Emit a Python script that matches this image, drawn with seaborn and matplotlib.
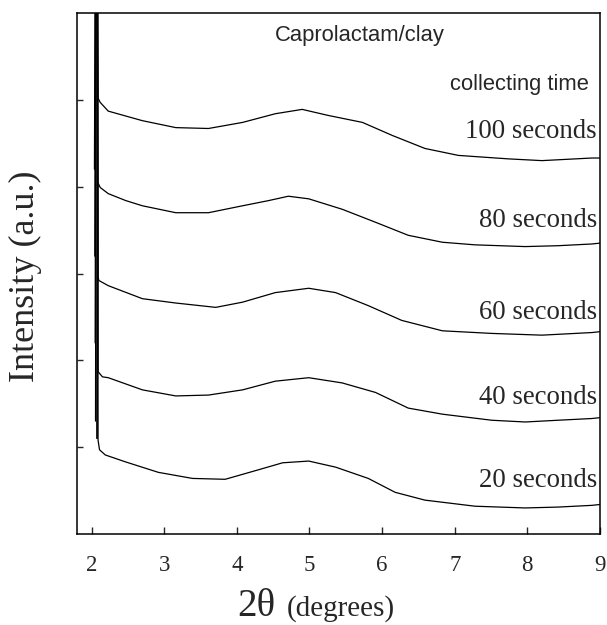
import matplotlib
matplotlib.use("Agg")
import matplotlib.pyplot as plt
import seaborn as sns
import pandas as pd

# ---- data (2theta in degrees, intensity in offset a.u.) ----
series_names = ["100 seconds", "80 seconds", "60 seconds", "40 seconds", "20 seconds"]

x_100 = [2.040, 2.060, 2.070, 2.090, 2.12, 2.23, 2.70, 3.16, 3.61, 4.08, 4.53, 4.90, 5.26, 5.73, 6.14, 6.59, 7.05, 7.74, 8.20, 8.89, 9.0]
y_100 = [4.20, 9.0, 9.0, 5.02, 4.97, 4.87, 4.76, 4.68, 4.67, 4.74, 4.84, 4.89, 4.82, 4.74, 4.59, 4.44, 4.36, 4.32, 4.30, 4.33, 4.33]

x_80 = [2.045, 2.062, 2.070, 2.085, 2.12, 2.23, 2.47, 2.70, 3.16, 3.61, 4.08, 4.44, 4.71, 4.99, 5.45, 5.91, 6.36, 6.83, 7.28, 7.97, 8.42, 8.89, 9.0]
y_80 = [3.20, 9.0, 9.0, 4.05, 3.99, 3.92, 3.84, 3.78, 3.70, 3.70, 3.78, 3.84, 3.89, 3.86, 3.74, 3.59, 3.44, 3.36, 3.33, 3.31, 3.32, 3.34, 3.35]

x_60 = [2.050, 2.065, 2.075, 2.090, 2.10, 2.23, 2.70, 3.16, 3.71, 4.08, 4.53, 4.99, 5.36, 5.81, 6.27, 6.83, 7.51, 8.20, 8.89, 9.0]
y_60 = [2.20, 9.0, 9.0, 2.97, 2.92, 2.86, 2.71, 2.66, 2.61, 2.67, 2.78, 2.83, 2.78, 2.63, 2.46, 2.34, 2.31, 2.29, 2.32, 2.33]

x_40 = [2.055, 2.068, 2.078, 2.090, 2.15, 2.23, 2.70, 3.16, 3.61, 4.08, 4.53, 4.99, 5.45, 5.91, 6.36, 6.83, 7.51, 7.97, 8.42, 8.89, 9.0]
y_40 = [1.30, 9.0, 9.0, 1.87, 1.81, 1.80, 1.66, 1.59, 1.60, 1.66, 1.76, 1.80, 1.74, 1.63, 1.45, 1.38, 1.31, 1.29, 1.31, 1.33, 1.34]

x_20 = [2.072, 2.076, 2.082, 2.090, 2.11, 2.19, 2.47, 2.92, 3.39, 3.84, 4.30, 4.63, 4.99, 5.36, 5.81, 6.18, 6.59, 7.28, 7.97, 8.42, 8.89, 9.0]
y_20 = [1.10, 9.0, 9.0, 1.08, 0.97, 0.91, 0.83, 0.71, 0.64, 0.63, 0.74, 0.82, 0.84, 0.77, 0.64, 0.48, 0.39, 0.32, 0.30, 0.31, 0.33, 0.34]

label_y = [4.64, 3.61, 2.55, 1.57, 0.62]
x_ticks = [2, 3, 4, 5, 6, 7, 8, 9]
y_ticks = [1, 2, 3, 4, 5]

xs = [x_100, x_80, x_60, x_40, x_20]
ys = [y_100, y_80, y_60, y_40, y_20]

frames = []
for name, xv, yv in zip(series_names, xs, ys):
    frames.append(pd.DataFrame({"two_theta": xv, "intensity": yv, "series": name}))
df = pd.concat(frames, ignore_index=True)

# ---- figure ----
sns.set_style("ticks")
plt.rcParams["font.family"] = ["Liberation Serif", "DejaVu Serif"]

fig = plt.figure(figsize=(6.07, 6.25), dpi=100)
ax = fig.add_axes([77 / 607, 1 - 534 / 625, (600 - 77) / 607, (534 - 13) / 625])

for name in series_names:
    sub = df[df["series"] == name]
    sns.lineplot(data=sub, x="two_theta", y="intensity", ax=ax, color="black",
                 linewidth=0.9, estimator=None, sort=False, legend=False)

ax.set_xlim(1.8, 9.0)
ax.set_ylim(0, 6)
ax.set_xticks(x_ticks)
ax.set_xticklabels([str(t) for t in x_ticks], fontsize=16.5)
ax.set_yticks(y_ticks)
ax.set_yticklabels([])
ax.tick_params(axis="x", direction="in", length=5, width=1, pad=15)
ax.tick_params(axis="y", direction="in", length=4, width=1)
ax.set_xlabel("")
ax.set_ylabel("")
for s in ax.spines.values():
    s.set_visible(True)
    s.set_linewidth(1.1)
    s.set_color("black")

for name, yl in zip(series_names, label_y):
    ax.text(8.96, yl, name, ha="right", va="center", fontsize=19.3)

ax.text(4.53, 5.74, "Caprolactam/clay", ha="left", va="center", fontsize=15.8,
        family=["Liberation Sans", "DejaVu Sans"])
ax.text(8.84, 5.18, "collecting time", ha="right", va="center", fontsize=15.8,
        family=["Liberation Sans", "DejaVu Sans"])

# axis titles
fig.text(237 / 607, 1 - 616 / 625, "2\u03b8", fontsize=28, ha="left", va="baseline")
fig.text(287 / 607, 1 - 616 / 625, "(degrees)", fontsize=21, ha="left", va="baseline")
fig.text(25 / 607, 1 - 276 / 625, "Intensity (a.u.)", rotation=90, fontsize=26,
         ha="center", va="center")

fig.savefig("out.png", dpi=100)
